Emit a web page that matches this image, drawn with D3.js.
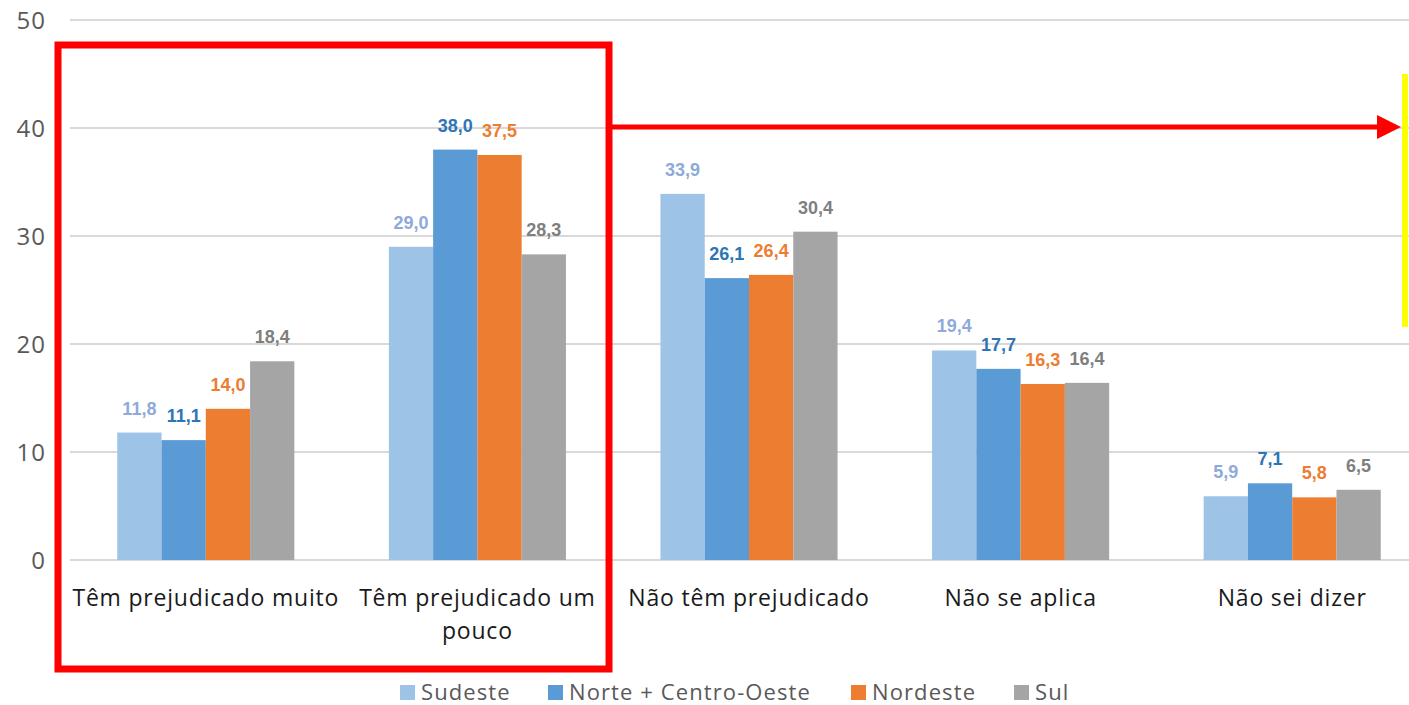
<!DOCTYPE html>
<html><head><meta charset="utf-8">
<script src="https://cdn.jsdelivr.net/npm/d3@7/dist/d3.min.js"></script>
<style>body{margin:0;background:#fff}svg{display:block}</style>
</head><body><svg id="c" width="1409" height="705"></svg>
<script>
const categories = [["Têm prejudicado muito"],["Têm prejudicado um","pouco"],["Não têm prejudicado"],["Não se aplica"],["Não sei dizer"]];
const seriesNames = ["Sudeste","Norte + Centro-Oeste","Nordeste","Sul"];
const sudeste = [11.8, 29.0, 33.9, 19.4, 5.9];
const norte = [11.1, 38.0, 26.1, 17.7, 7.1];
const nordeste = [14.0, 37.5, 26.4, 16.3, 5.8];
const sul = [18.4, 28.3, 30.4, 16.4, 6.5];
const yTicks = [0,10,20,30,40,50];
const series = [sudeste, norte, nordeste, sul];
const fills = ["#9dc3e6","#5b9bd5","#ed7d31","#a5a5a5"];
const labelColors = ["#8eaadb","#2e75b6","#ed7d31","#7f7f7f"];
const labelWeights = ["bold","bold","bold","bold"];

const svg = d3.select("#c");
const y = d3.scaleLinear().domain([0,50]).range([560,20]);
const x0 = d3.scaleBand().domain(d3.range(5)).range([70,1428]).paddingInner(0.348).paddingOuter(0.174);
const x1 = d3.scaleBand().domain(d3.range(4)).range([0,x0.bandwidth()]).padding(0);

// gridlines
svg.append("g").selectAll("line").data(yTicks).join("line")
  .attr("x1",70).attr("x2",1409).attr("y1",d=>y(d)).attr("y2",d=>y(d))
  .attr("stroke","#d9d9d9").attr("stroke-width",2);
// y tick labels
svg.append("g").selectAll("text").data(yTicks).join("text")
  .attr("x",46).attr("y",d=>y(d)).attr("dy","0.36em").attr("text-anchor","end")
  .attr("font-family","Open Sans, sans-serif").attr("font-size",24).attr("letter-spacing",1).attr("fill","#595959")
  .text(d=>d);

// bars
const g = svg.append("g");
series.forEach((s,si)=>{
  g.append("g").selectAll("rect").data(s).join("rect")
    .attr("x",(d,i)=>x0(i)+x1(si)).attr("width",x1.bandwidth())
    .attr("y",d=>y(d)).attr("height",d=>y(0)-y(d)).attr("fill",fills[si]);
  g.append("g").selectAll("text").data(s).join("text")
    .attr("x",(d,i)=>x0(i)+x1(si)+x1.bandwidth()/2).attr("y",d=>y(d)-18)
    .attr("text-anchor","middle").attr("font-family","Liberation Sans Narrow, Arial Narrow, sans-serif")
    .attr("font-size",18).attr("font-weight",labelWeights[si]).attr("fill",labelColors[si])
    .text(d=>d3.format(".1f")(d).replace(".",","));
});

// category labels
svg.append("g").selectAll("text").data(categories).join("text")
  .attr("x",(d,i)=>x0(i)+x0.bandwidth()/2).attr("y",606)
  .attr("text-anchor","middle").attr("font-family","Open Sans, sans-serif").attr("font-size",23)
  .attr("letter-spacing",0.8).attr("fill","#1a1a1a")
  .each(function(d){ d3.select(this).selectAll("tspan").data(d).join("tspan")
    .attr("x",d3.select(this).attr("x")).attr("dy",(t,j)=>j?33:0).text(t=>t); });

// legend
const legX = [400,548,851,1014];
const lg = svg.append("g");
seriesNames.forEach((n,i)=>{
  lg.append("rect").attr("x",legX[i]).attr("y",685).attr("width",15).attr("height",15).attr("fill",fills[i]);
  lg.append("text").attr("x",legX[i]+21).attr("y",700)
    .attr("font-family","Open Sans, sans-serif").attr("font-size",22).attr("letter-spacing",1.1).attr("fill","#595959").text(n);
});

// annotations
svg.append("rect").attr("x",58).attr("y",45).attr("width",551).attr("height",624)
  .attr("fill","none").attr("stroke","#ff0000").attr("stroke-width",7);
svg.append("line").attr("x1",612).attr("x2",1380).attr("y1",127).attr("y2",127)
  .attr("stroke","#ff0000").attr("stroke-width",5);
svg.append("path").attr("d","M1377,115 L1401,127 L1377,139 Z").attr("fill","#ff0000");
svg.append("line").attr("x1",1405).attr("x2",1405).attr("y1",74).attr("y2",327)
  .attr("stroke","#ffff00").attr("stroke-width",6);
</script></body></html>
